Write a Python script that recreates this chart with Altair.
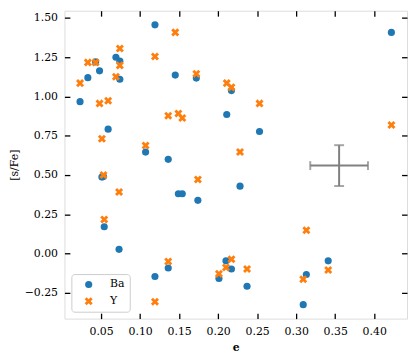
import altair as alt
import pandas as pd

# eccentricity of each star, with its [Ba/Fe] and [Y/Fe]
ecc = [0.023, 0.033, 0.043, 0.048, 0.051, 0.053, 0.054, 0.059, 0.069, 0.074, 0.074, 0.073,
       0.107, 0.119, 0.119, 0.136, 0.136, 0.145, 0.149, 0.154, 0.172, 0.174,
       0.201, 0.210, 0.211, 0.217, 0.217, 0.228, 0.237, 0.253,
       0.309, 0.313, 0.341, 0.422]
ba_fe = [0.967, 1.12, 1.22, 1.163, 0.487, 0.49, 0.171, 0.792, 1.25, 1.225, 1.11, 0.027,
         0.646, 1.456, -0.146, 0.60, -0.092, 1.136, 0.381, 0.381, 1.117, 0.339,
         -0.158, -0.046, 0.885, 1.0375, -0.098, 0.429, -0.208, 0.777,
         -0.325, -0.133, -0.046, 1.408]
y_fe = [1.085, 1.217, 1.217, 0.956, 0.731, 0.50, 0.217, 0.973, 1.125, 1.198, 1.306, 0.392,
        0.688, 1.254, -0.306, 0.877, -0.05, 1.408, 0.892, 0.8625, 1.144, 0.471,
        -0.129, -0.088, 1.085, 1.058, -0.036, 0.646, -0.098, 0.956,
        -0.163, 0.148, -0.104, 0.819]
elements = ["Ba", "Y"]
colors = ["#1f77b4", "#ff7f0e"]

# typical error bar
err_e = [0.355]
err_v = [0.56]
err_de = [0.037]
err_dv = [0.13]

x_domain = [0.003, 0.442]
y_domain = [-0.414, 1.546]
x_ticks = [0.05, 0.10, 0.15, 0.20, 0.25, 0.30, 0.35, 0.40]
y_ticks = [-0.25, 0.0, 0.25, 0.50, 0.75, 1.00, 1.25, 1.50]

n = len(ecc)
df = pd.DataFrame({
    "e": ecc + ecc,
    "val": ba_fe + y_fe,
    "el": [elements[0]] * n + [elements[1]] * n,
})
df_err = pd.DataFrame({"e": err_e, "v": err_v, "de": err_de, "dv": err_dv})

FONT = "DejaVu Serif"
xs = alt.Scale(domain=x_domain, nice=False, zero=False)
ys = alt.Scale(domain=y_domain, nice=False, zero=False)

common = dict(tickSize=5.5, tickWidth=1.3, tickColor="black", domain=False, offset=-5.5,
              grid=False, labelFont=FONT, labelFontSize=11, labelColor="black",
              titleFont=FONT, titleFontSize=11, titleColor="black", labelPadding=7)

x_path = ("M-0.564,-1.128L0,-0.564L0.564,-1.128L1.128,-0.564L0.564,0L1.128,0.564"
          "L0.564,1.128L0,0.564L-0.564,1.128L-1.128,0.564L-0.564,0L-1.128,-0.564Z")

SYM = 52
legend = alt.Legend(title=None, orient="bottom-left", offset=7, padding=5,
                    strokeColor="#cccccc", cornerRadius=3, fillColor="white",
                    labelFont=FONT, labelFontSize=11, labelColor="black",
                    symbolSize=SYM, symbolOffset=7, labelOffset=16, rowPadding=5,
                    symbolStrokeWidth=0)

points = alt.Chart(df).mark_point(filled=True, opacity=1, size=SYM).encode(
    x=alt.X("e:Q", scale=xs,
            axis=alt.Axis(values=x_ticks, format=".2f", title="e", titleFontWeight="bold",
                          orient="bottom", titlePadding=5, **common)),
    y=alt.Y("val:Q", scale=ys,
            axis=alt.Axis(values=y_ticks, format=".2f", title="[s/Fe]", titleFontWeight="normal",
                          orient="left", titlePadding=5, **common)),
    color=alt.Color("el:N", scale=alt.Scale(domain=elements, range=colors), legend=legend),
    shape=alt.Shape("el:N", scale=alt.Scale(domain=elements, range=["circle", x_path]), legend=legend),
)

base_err = alt.Chart(df_err).transform_calculate(
    elo="datum.e - datum.de", ehi="datum.e + datum.de",
    vlo="datum.v - datum.dv", vhi="datum.v + datum.dv",
)
GRAY = "#808080"

hbar = base_err.mark_rule(color=GRAY, strokeWidth=2).encode(
    x=alt.X("elo:Q", scale=xs,
            axis=alt.Axis(values=x_ticks, labels=False, title=None, orient="top", **common)),
    x2="ehi:Q",
    y=alt.Y("v:Q", scale=ys,
            axis=alt.Axis(values=y_ticks, labels=False, title=None, orient="right", **common)),
)
vbar = base_err.mark_rule(color=GRAY, strokeWidth=2).encode(
    x=alt.X("e:Q", scale=xs, axis=None),
    y=alt.Y("vlo:Q", scale=ys, axis=None),
    y2="vhi:Q",
)
hcap_lo = base_err.mark_tick(color=GRAY, thickness=2, size=9, orient="vertical").encode(
    x=alt.X("elo:Q", scale=xs, axis=None), y=alt.Y("v:Q", scale=ys, axis=None))
hcap_hi = base_err.mark_tick(color=GRAY, thickness=2, size=9, orient="vertical").encode(
    x=alt.X("ehi:Q", scale=xs, axis=None), y=alt.Y("v:Q", scale=ys, axis=None))
vcap_lo = base_err.mark_tick(color=GRAY, thickness=2, size=10, orient="horizontal").encode(
    x=alt.X("e:Q", scale=xs, axis=None), y=alt.Y("vlo:Q", scale=ys, axis=None))
vcap_hi = base_err.mark_tick(color=GRAY, thickness=2, size=10, orient="horizontal").encode(
    x=alt.X("e:Q", scale=xs, axis=None), y=alt.Y("vhi:Q", scale=ys, axis=None))

chart = alt.layer(hbar, vbar, hcap_lo, hcap_hi, vcap_lo, vcap_hi, points).resolve_axis(
    x="independent", y="independent"
).properties(
    width=346, height=311, padding=0
).configure_view(
    stroke="black", strokeWidth=1.5
).configure(background="white")

chart.save("out.html", embed_options={"renderer": "svg", "actions": False})
